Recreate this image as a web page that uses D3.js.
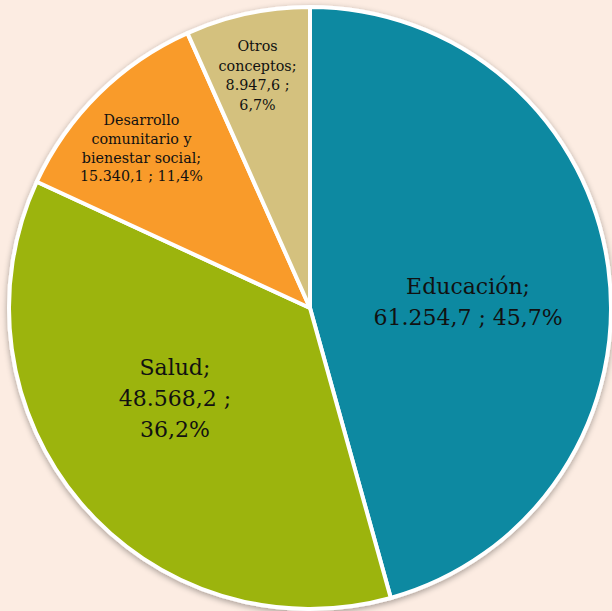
<!DOCTYPE html>
<html>
<head>
<meta charset="utf-8">
<script src="https://cdn.jsdelivr.net/npm/d3@7"></script>
<style>
body{margin:0;background:#fcece2}
text{font-family:Georgia,"DejaVu Serif",serif;fill:#111}
</style>
</head>
<body>
<svg id="chart"></svg>
<script>
var categories=["Educación","Salud","Desarrollo comunitario y bienestar social","Otros conceptos"]
var values=[61254.7,48568.2,15340.1,8947.6]
var valueLabels=["61.254,7","48.568,2","15.340,1","8.947,6"]
var pctLabels=["45,7%","36,2%","11,4%","6,7%"]
var labelLines=[
  ["Educación;","61.254,7 ; 45,7%"],
  ["Salud;","48.568,2 ;","36,2%"],
  ["Desarrollo","comunitario y","bienestar social;","15.340,1 ; 11,4%"],
  ["Otros","conceptos;","8.947,6 ;","6,7%"]
]
var colors=["#0a89a1","#9cb40b","#f99b2b","#d4c17e"]

var screen={width:612,height:611}
var cx=310,cy=308,R=301
// label radius factor, font size, line height, nudge
var labelR=[0.53,0.55,0.75,0.79]
var labelSize=[22,22,14.3,14.3]
var labelLH=[31,31,18.6,19.5]
var labelShift=[[0,15],[-9,-17],[-10,1],[-3,0]]

var svg=d3.select("#chart")
  .attr("width",screen.width)
  .attr("height",screen.height)

var defs=svg.append("defs")
var f=defs.append("filter").attr("id","sh").attr("x","-10%").attr("y","-10%").attr("width","120%").attr("height","120%")
f.append("feGaussianBlur").attr("in","SourceAlpha").attr("stdDeviation",3)
f.append("feOffset").attr("dx",0).attr("dy",2).attr("result","b")
f.append("feComponentTransfer").append("feFuncA").attr("type","linear").attr("slope",0.35)
var m=f.append("feMerge")
m.append("feMergeNode")
m.append("feMergeNode").attr("in","SourceGraphic")

var pie=d3.pie().sort(null).value(function(d){return d})
var arcs=pie(values)
var arc=d3.arc().innerRadius(0).outerRadius(R)

var g=svg.append("g").attr("transform","translate("+cx+","+cy+")")
g.append("g").attr("filter","url(#sh)")
  .selectAll("path")
  .data(arcs)
  .enter()
  .append("path")
  .attr("d",arc)
  .attr("fill",function(d,i){return colors[i]})
  .attr("stroke","#fff")
  .attr("stroke-width",4)
  .attr("stroke-linejoin","round")

var labels=g.selectAll("text.lbl")
  .data(arcs)
  .enter()
  .append("text")
  .attr("class","lbl")
  .attr("text-anchor","middle")
  .style("font-size",function(d,i){return labelSize[i]+"px"})
  .attr("transform",function(d,i){
    var a=d3.arc().innerRadius(R*labelR[i]).outerRadius(R*labelR[i])
    var c=a.centroid(d)
    return "translate("+(c[0]+labelShift[i][0])+","+(c[1]+labelShift[i][1])+")"
  })

labels.each(function(d,i){
  var lines=labelLines[i]
  var lh=labelLH[i]
  var t=d3.select(this)
  lines.forEach(function(s,j){
    t.append("tspan")
      .attr("x",0)
      .attr("y",(j-(lines.length-1)/2)*lh)
      .attr("dy","0.35em")
      .text(s)
  })
})
</script>
</body>
</html>
